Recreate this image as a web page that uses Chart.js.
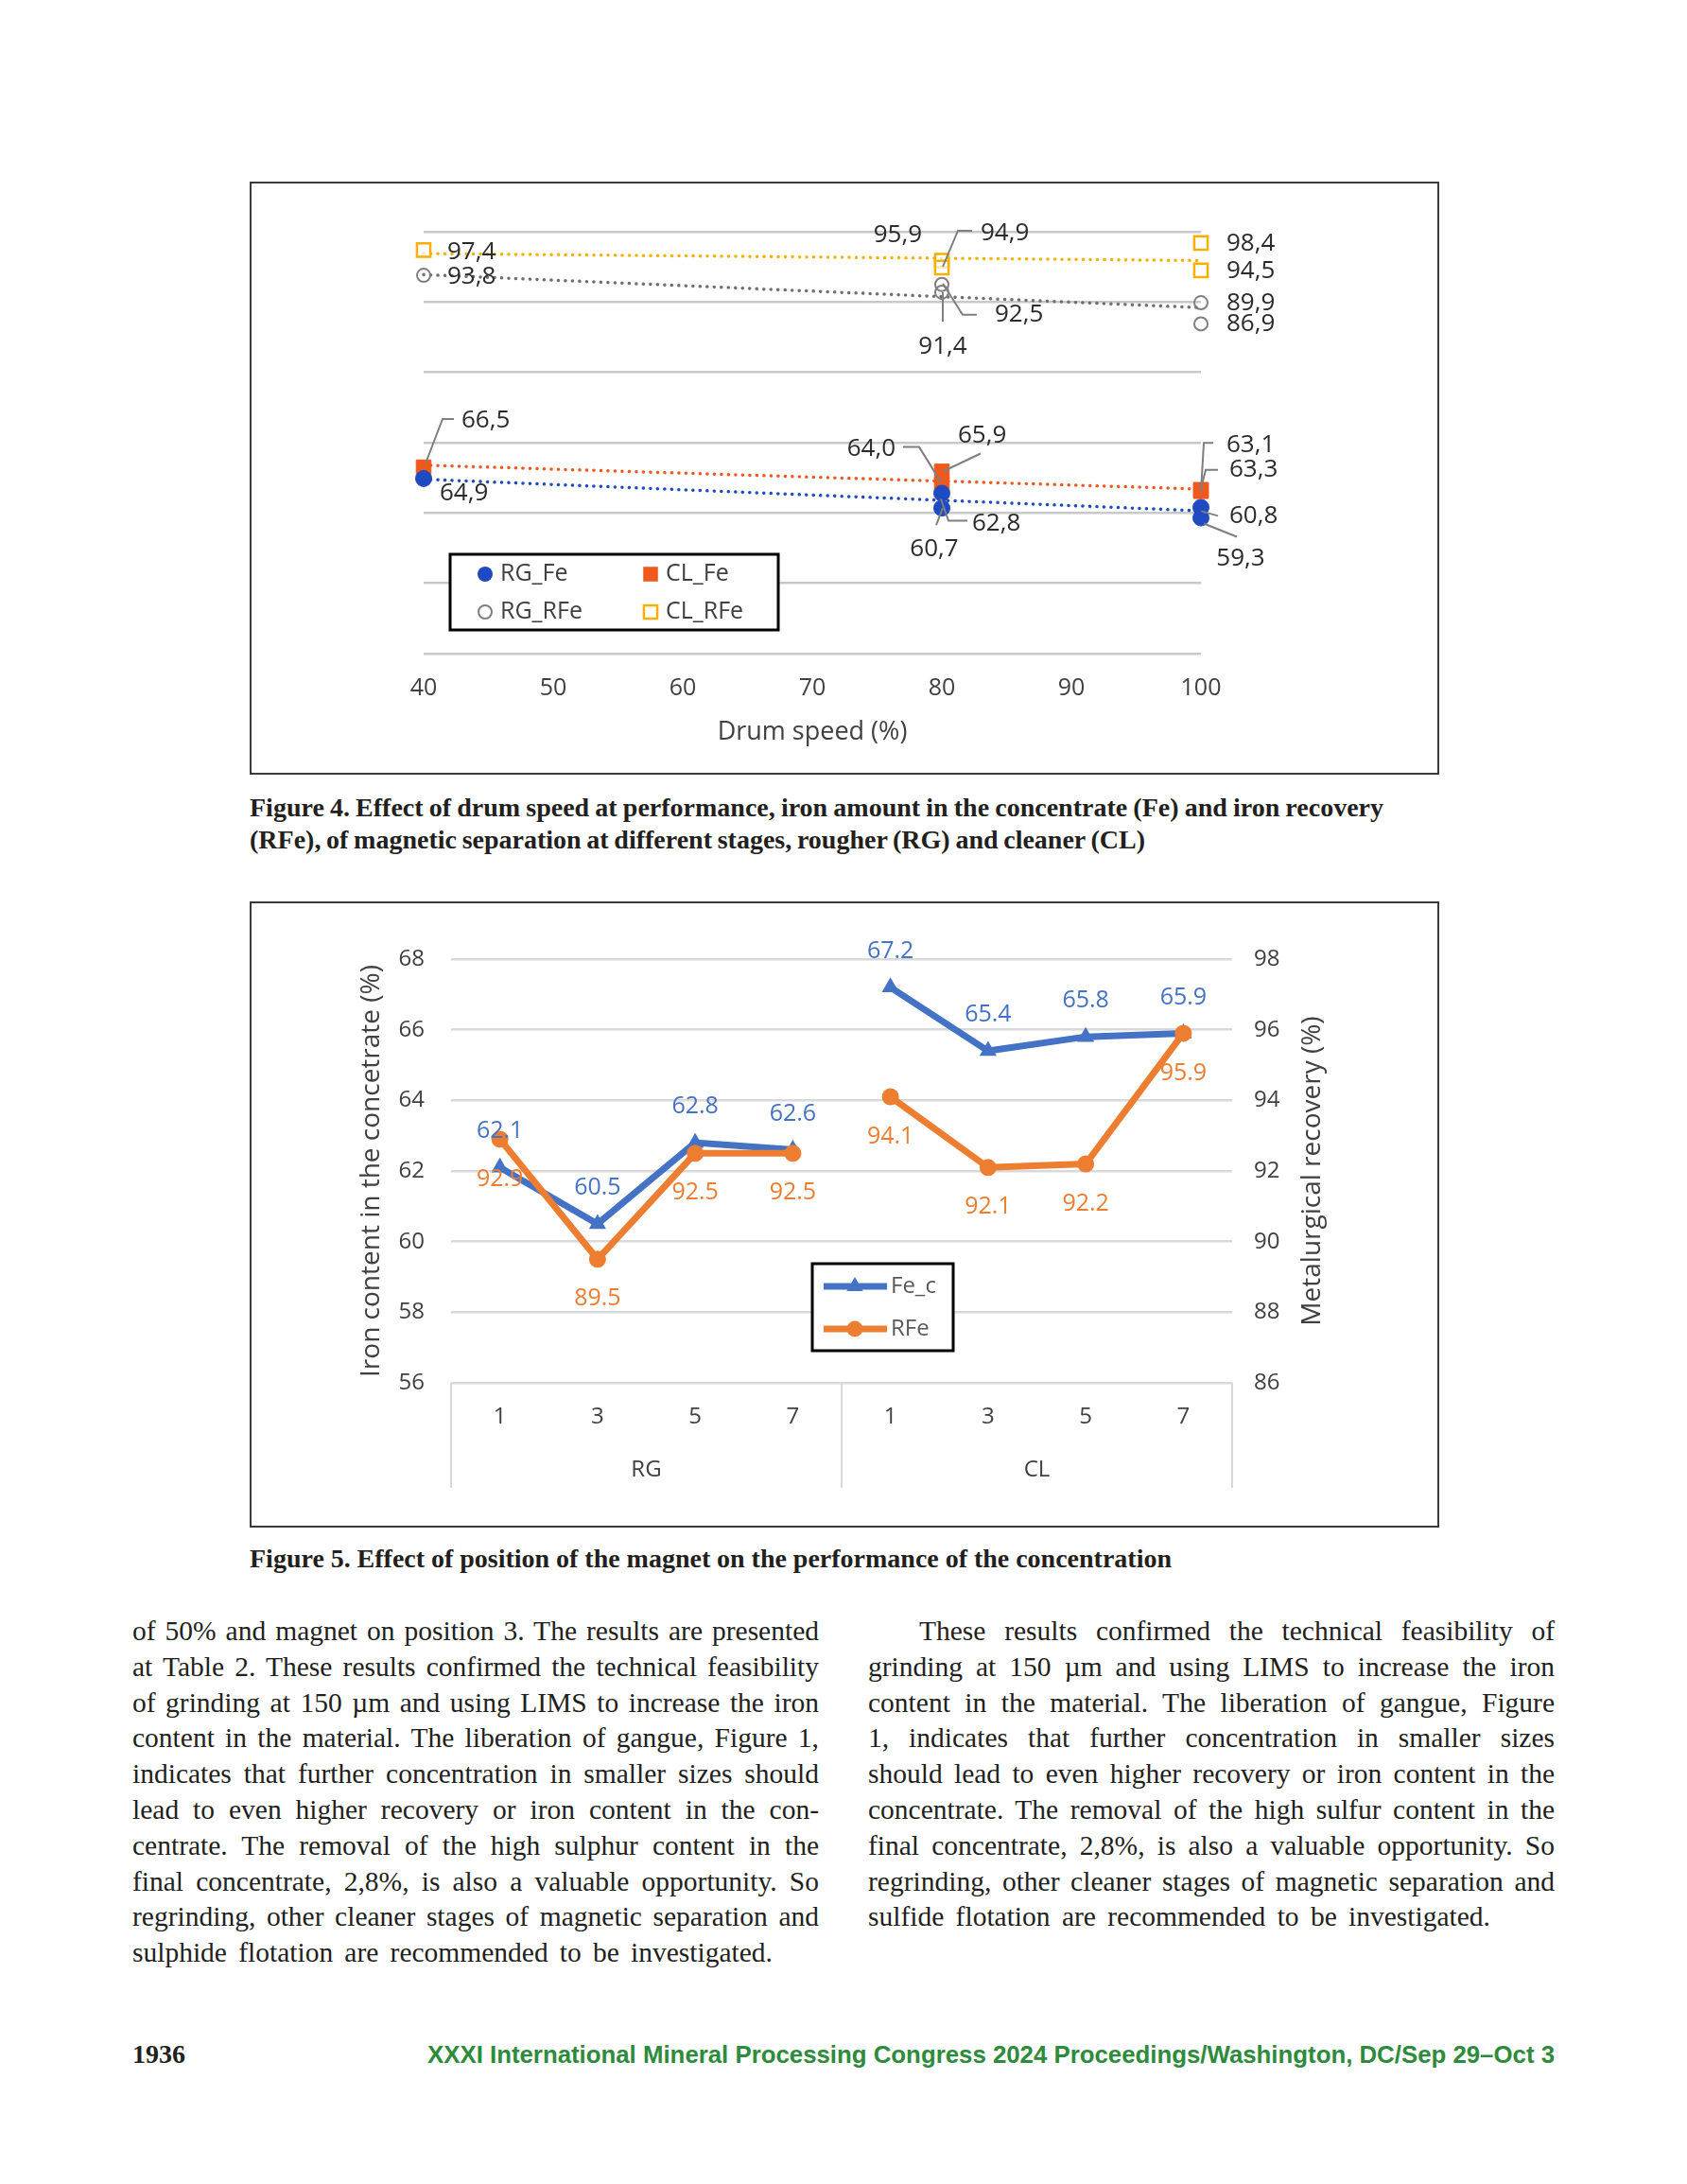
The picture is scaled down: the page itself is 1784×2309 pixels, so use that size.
<!DOCTYPE html>
<html>
<head>
<meta charset="utf-8">
<script src="https://cdn.jsdelivr.net/npm/chart.js@4.4.1/dist/chart.umd.min.js"></script>
<style>
  html, body { margin: 0; padding: 0; background: #fff; }
  body { width: 1784px; height: 2309px; position: relative; overflow: hidden; }
  .fig { position: absolute; left: 264px; width: 1254px; border: 2px solid #3a3a3a; background: #fff; }
  #fig4 { top: 192px; height: 623px; }
  #fig5 { top: 953px; height: 658px; }
  .fig canvas { display: block; }
  .ln { position: absolute; white-space: nowrap; }
  .cap { font-family: "Liberation Serif", serif; font-weight: bold; font-size: 28px; line-height: 34px; color: #231f20; }
  .txt { font-family: "Liberation Serif", serif; font-size: 29.5px; line-height: 38px; color: #231f20; }
  .pg { font-family: "Liberation Serif", serif; font-weight: bold; font-size: 28px; line-height: 34px; color: #231f20; }
  .conf { font-family: "Liberation Sans", sans-serif; font-weight: bold; font-size: 25px; line-height: 34px; color: #2e8b3c; transform-origin: left center; }
</style>
</head>
<body>

<div class="fig" id="fig4"><canvas id="chart4" width="1254" height="623"></canvas></div>
<div class="ln cap" style="left:264px; top:837px" data-w="1199">Figure 4. Effect of drum speed at performance, iron amount in the concentrate (Fe) and iron recovery</div>
<div class="ln cap" style="left:264px; top:871px" data-w="947">(RFe), of magnetic separation at different stages, rougher (RG) and cleaner (CL)</div>

<div class="fig" id="fig5"><canvas id="chart5" width="1254" height="658"></canvas></div>
<div class="ln cap" style="left:264px; top:1631px" data-w="975">Figure 5. Effect of position of the magnet on the performance of the concentration</div>

<div class="ln txt" style="left:140px; top:1705px" data-w="726">of 50% and magnet on position 3. The results are presented</div>
<div class="ln txt" style="left:140px; top:1743px" data-w="726">at Table 2. These results confirmed the technical feasibility</div>
<div class="ln txt" style="left:140px; top:1781px" data-w="726">of grinding at 150 µm and using LIMS to increase the iron</div>
<div class="ln txt" style="left:140px; top:1818px" data-w="726">content in the material. The liberation of gangue, Figure 1,</div>
<div class="ln txt" style="left:140px; top:1856px" data-w="726">indicates that further concentration in smaller sizes should</div>
<div class="ln txt" style="left:140px; top:1894px" data-w="726">lead to even higher recovery or iron content in the con-</div>
<div class="ln txt" style="left:140px; top:1932px" data-w="726">centrate. The removal of the high sulphur content in the</div>
<div class="ln txt" style="left:140px; top:1970px" data-w="726">final concentrate, 2,8%, is also a valuable opportunity. So</div>
<div class="ln txt" style="left:140px; top:2007px" data-w="726">regrinding, other cleaner stages of magnetic separation and</div>
<div class="ln txt" style="left:140px; top:2045px" data-w="677">sulphide flotation are recommended to be investigated.</div>

<div class="ln txt" style="left:972px; top:1705px" data-w="672">These results confirmed the technical feasibility of</div>
<div class="ln txt" style="left:918px; top:1743px" data-w="726">grinding at 150 µm and using LIMS to increase the iron</div>
<div class="ln txt" style="left:918px; top:1781px" data-w="726">content in the material. The liberation of gangue, Figure</div>
<div class="ln txt" style="left:918px; top:1818px" data-w="726">1, indicates that further concentration in smaller sizes</div>
<div class="ln txt" style="left:918px; top:1856px" data-w="726">should lead to even higher recovery or iron content in the</div>
<div class="ln txt" style="left:918px; top:1894px" data-w="726">concentrate. The removal of the high sulfur content in the</div>
<div class="ln txt" style="left:918px; top:1932px" data-w="726">final concentrate, 2,8%, is also a valuable opportunity. So</div>
<div class="ln txt" style="left:918px; top:1970px" data-w="726">regrinding, other cleaner stages of magnetic separation and</div>
<div class="ln txt" style="left:918px; top:2007px" data-w="658">sulfide flotation are recommended to be investigated.</div>

<div class="ln pg" style="left:140px; top:2155px">1936</div>
<div class="ln conf" style="left:452px; top:2155px" data-w="1192" data-fit="scale">XXXI International Mineral Processing Congress 2024 Proceedings/Washington, DC/Sep 29–Oct 3</div>

<script>
// ---------- Figure 4 data (drum speed tests) ----------
const DRUM_SPEED = [40, 80, 80, 100, 100];
const RG_FE  = [64.9, 62.8, 60.7, 60.8, 59.3];
const CL_FE  = [66.5, 64.0, 65.9, 63.1, 63.3];
const RG_RFE = [93.8, 91.4, 92.5, 89.9, 86.9];
const CL_RFE = [97.4, 95.9, 94.9, 98.4, 94.5];

// dotted linear trendlines, values read at 40 and 100
const TREND_X = [40, 100];
const RG_FE_TREND  = [64.8, 60.3];
const CL_FE_TREND  = [66.8, 63.4];
const RG_RFE_TREND = [93.9, 89.2];
const CL_RFE_TREND = [96.9, 95.9];

const SPEED_TICKS = [40, 50, 60, 70, 80, 90, 100];

// ---------- Figure 5 data (magnet position) ----------
const MAGNET_POSITION = ['1', '3', '5', '7', '1', '3', '5', '7'];
const STAGES = ['RG', 'CL'];
const FE_C = [62.1, 60.5, 62.8, 62.6, 67.2, 65.4, 65.8, 65.9];
const RFE  = [92.9, 89.5, 92.5, 92.5, 94.1, 92.1, 92.2, 95.9];

// Colors
const COLOR_RG_FE = "#1f4bc2";
const COLOR_CL_FE = "#f0581c";
const COLOR_RG_RFE = "#7f7f7f";
const COLOR_CL_RFE = "#f5b000";
const COLOR_FE_C = "#4472c4";
const COLOR_RFE = "#ed7d31";

Chart.defaults.font.family = '"Open Sans", "DejaVu Sans", sans-serif';
Chart.defaults.animation = false;
Chart.defaults.events = [];
Chart.defaults.plugins.legend.display = false;
Chart.defaults.plugins.tooltip.enabled = false;

// label placement for figure 4 (pixel offsets from the point, excel style leader lines)
const RG_FE_LABELS = [
    { dx: 17, dy: 16, align: 'left' },
    { dx: 32, dy: 32, align: 'left', leader: [[-1, 6], [7, 29], [27, 29]] },
    { dx: -8, dy: 43, align: 'center', leader: [[1, 0], [-6, 18]] },
    { dx: 30, dy: 9, align: 'left', leader: [[0, 4], [18, 9]] },
    { dx: 42, dy: 43, align: 'center', leader: [[3, 6], [38, 20]] }
];
const CL_FE_LABELS = [
    { dx: 40, dy: -49, align: 'left', leader: [[2, -4], [20, -51], [32, -51]] },
    { dx: -49, dy: -38, align: 'right', leader: [[-41, -40], [-24, -40], [-1, -3]] },
    { dx: 17, dy: -38, align: 'left', leader: [[1, 0], [41, -19]] },
    { dx: 27, dy: -49, align: 'left', leader: [[0, 1], [3, -51], [13, -51]] },
    { dx: 30, dy: -21, align: 'left', leader: [[0, -1], [5, -21], [18, -21]] }
];
const RG_RFE_LABELS = [
    { dx: 25, dy: 2, align: 'left' },
    { dx: 1, dy: 58, align: 'center', leader: [[1, 0], [1, 31]] },
    { dx: 56, dy: 32, align: 'left', leader: [[1, -1], [22, 32], [37, 32]] },
    { dx: 27, dy: 1, align: 'left' },
    { dx: 27, dy: 0, align: 'left' }
];
const CL_RFE_LABELS = [
    { dx: 25, dy: 2, align: 'left' },
    { dx: -21, dy: -27, align: 'right' },
    { dx: 41, dy: -36, align: 'left', leader: [[1, -1], [17, -39], [32, -39]] },
    { dx: 27, dy: 1, align: 'left' },
    { dx: 27, dy: 1, align: 'left' }
];

const pts = (xs, ys) => xs.map((x, i) => ({ x: x, y: ys[i] }));

function trend(ys, color) {
    return {
        data: pts(TREND_X, ys),
        showLine: true,
        pointRadius: 0,
        borderColor: color,
        borderWidth: 3.5,
        borderDash: [0.1, 7.4],
        borderCapStyle: 'round',
        fill: false,
        clip: false
    };
}

function drawMarker(ctx, style, x, y, r, fill, stroke, lw) {
    ctx.beginPath();
    if (style === 'rect') {
        const s = Math.SQRT1_2 * r;
        ctx.rect(x - s, y - s, 2 * s, 2 * s);
    } else if (style === 'triangle') {
        ctx.moveTo(x, y - r);
        ctx.lineTo(x + r * 0.866, y + r / 2);
        ctx.lineTo(x - r * 0.866, y + r / 2);
        ctx.closePath();
    } else {
        ctx.arc(x, y, r, 0, Math.PI * 2);
    }
    if (fill) { ctx.fillStyle = fill; ctx.fill(); }
    if (stroke) { ctx.strokeStyle = stroke; ctx.lineWidth = lw; ctx.stroke(); }
}

// Data labels + legend for figure 4
const fig4Extras = {
    id: 'fig4Extras',
    afterDatasetsDraw(chart) {
        const ctx = chart.ctx;
        const series = [RG_FE, CL_FE, RG_RFE, CL_RFE];
        const layouts = [RG_FE_LABELS, CL_FE_LABELS, RG_RFE_LABELS, CL_RFE_LABELS];
        ctx.save();
        ctx.font = '26px "Open Sans"';
        ctx.textBaseline = 'middle';
        layouts.forEach((layout, di) => {
            const meta = chart.getDatasetMeta(di);
            layout.forEach((l, i) => {
                const p = meta.data[i];
                if (l.leader) {
                    ctx.strokeStyle = '#7f7f7f';
                    ctx.lineWidth = 2;
                    ctx.beginPath();
                    l.leader.forEach(([lx, ly], k) => {
                        if (k === 0) ctx.moveTo(p.x + lx, p.y + ly);
                        else ctx.lineTo(p.x + lx, p.y + ly);
                    });
                    ctx.stroke();
                }
                ctx.fillStyle = '#2b2b2b';
                ctx.textAlign = l.align;
                ctx.fillText(series[di][i].toFixed(1).replace('.', ','), p.x + l.dx, p.y + l.dy);
            });
        });
        ctx.restore();
    },
    afterDraw(chart) {
        const ctx = chart.ctx;
        ctx.save();
        ctx.fillStyle = '#fff';
        ctx.fillRect(210, 392, 347, 80);
        ctx.strokeStyle = '#000';
        ctx.lineWidth = 3;
        ctx.strokeRect(210, 392, 347, 80);
        drawMarker(ctx, 'circle', 247, 413, 8, COLOR_RG_FE, null, 0);
        drawMarker(ctx, 'rect', 422, 413, 11, COLOR_CL_FE, null, 0);
        drawMarker(ctx, 'circle', 247, 453, 7, null, COLOR_RG_RFE, 2);
        drawMarker(ctx, 'rect', 422, 453, 10, null, COLOR_CL_RFE, 2.5);
        ctx.font = '25px "Open Sans"';
        ctx.fillStyle = '#404040';
        ctx.textBaseline = 'middle';
        ctx.textAlign = 'left';
        ctx.fillText('RG_Fe', 263, 413);
        ctx.fillText('CL_Fe', 438, 413);
        ctx.fillText('RG_RFe', 263, 453);
        ctx.fillText('CL_RFe', 438, 453);
        ctx.restore();
    }
};

new Chart(document.getElementById('chart4'), {
    type: 'scatter',
    data: {
        datasets: [
            { label: 'RG_Fe', data: pts(DRUM_SPEED, RG_FE), pointStyle: 'circle', pointRadius: 8.5, backgroundColor: COLOR_RG_FE, borderColor: COLOR_RG_FE, borderWidth: 1, clip: false },
            { label: 'CL_Fe', data: pts(DRUM_SPEED, CL_FE), pointStyle: 'rect', pointRadius: 11, backgroundColor: COLOR_CL_FE, borderColor: COLOR_CL_FE, borderWidth: 1, clip: false },
            { label: 'RG_RFe', data: pts(DRUM_SPEED, RG_RFE), pointStyle: 'circle', pointRadius: 7, backgroundColor: 'rgba(255,255,255,0)', borderColor: COLOR_RG_RFE, borderWidth: 2, clip: false },
            { label: 'CL_RFe', data: pts(DRUM_SPEED, CL_RFE), pointStyle: 'rect', pointRadius: 10, backgroundColor: 'rgba(255,255,255,0.7)', borderColor: COLOR_CL_RFE, borderWidth: 2.5, clip: false },
            trend(RG_FE_TREND, COLOR_RG_FE),
            trend(CL_FE_TREND, COLOR_CL_FE),
            trend(RG_RFE_TREND, '#6f6f6f'),
            trend(CL_RFE_TREND, COLOR_CL_RFE)
        ]
    },
    options: {
        responsive: false,
        devicePixelRatio: 1,
        layout: { padding: { top: 51, right: 250, left: 0, bottom: 0 } },
        scales: {
            x: {
                type: 'linear', min: 40, max: 100,
                afterBuildTicks: (s) => { s.ticks = SPEED_TICKS.map(v => ({ value: v })); },
                ticks: { color: '#404040', font: { size: 25 }, padding: 22 },
                grid: { display: false, drawTicks: false },
                border: { display: false },
                title: { display: true, text: 'Drum speed (%)', color: '#404040', font: { size: 27 }, padding: { top: 0, bottom: 26 } },
                afterFit: (s) => { s.height = 126; }
            },
            y: {
                min: 40, max: 100,
                ticks: { stepSize: 10, display: false },
                grid: { color: '#c9c9c9', lineWidth: 2.5, drawTicks: false },
                border: { display: false },
                afterFit: (s) => { s.width = 182; }
            }
        }
    },
    plugins: [fig4Extras]
});

// Labels, grouped category axis, right title and legend for figure 5
const fig5Extras = {
    id: 'fig5Extras',
    afterDatasetsDraw(chart) {
        const ctx = chart.ctx;
        ctx.save();
        ctx.font = '25px "Open Sans"';
        ctx.textAlign = 'center';
        ctx.textBaseline = 'middle';
        chart.getDatasetMeta(1).data.forEach((p, i) => {
            ctx.fillStyle = COLOR_FE_C;
            ctx.fillText(FE_C[i].toFixed(1), p.x, p.y - 38);
        });
        chart.getDatasetMeta(0).data.forEach((p, i) => {
            ctx.fillStyle = COLOR_RFE;
            ctx.fillText(RFE[i].toFixed(1), p.x, p.y + 42);
        });
        ctx.restore();
    },
    afterDraw(chart) {
        const ctx = chart.ctx;
        const area = chart.chartArea;
        ctx.save();
        // group separators + group names
        ctx.strokeStyle = '#d9d9d9';
        ctx.lineWidth = 2;
        const bounds = [];
        for (let g = 0; g <= STAGES.length; g++) {
            const xx = area.left + (area.right - area.left) * g / STAGES.length;
            bounds.push(xx);
            ctx.beginPath();
            ctx.moveTo(xx, area.bottom);
            ctx.lineTo(xx, area.bottom + 111);
            ctx.stroke();
        }
        ctx.font = '24px "Open Sans"';
        ctx.fillStyle = '#404040';
        ctx.textAlign = 'center';
        ctx.textBaseline = 'middle';
        STAGES.forEach((s, g) => {
            ctx.fillText(s, (bounds[g] + bounds[g + 1]) / 2, area.bottom + 92);
        });
        // right axis title, reading bottom to top
        ctx.save();
        ctx.translate(1122, (area.top + area.bottom) / 2);
        ctx.rotate(-Math.PI / 2);
        ctx.font = '28px "Open Sans"';
        ctx.fillStyle = '#404040';
        ctx.fillText('Metalurgical recovery (%)', 0, 0);
        ctx.restore();
        // legend
        ctx.fillStyle = '#fff';
        ctx.fillRect(593, 381, 149, 92);
        ctx.strokeStyle = '#000';
        ctx.lineWidth = 3;
        ctx.strokeRect(593, 381, 149, 92);
        const items = [
            { text: 'Fe_c', color: COLOR_FE_C, style: 'triangle', r: 10, y: 405 },
            { text: 'RFe', color: COLOR_RFE, style: 'circle', r: 8.5, y: 450 }
        ];
        ctx.font = '24px "Open Sans"';
        items.forEach(it => {
            ctx.strokeStyle = it.color;
            ctx.lineWidth = 7;
            ctx.beginPath();
            ctx.moveTo(605, it.y);
            ctx.lineTo(672, it.y);
            ctx.stroke();
            drawMarker(ctx, it.style, 638, it.y, it.r, it.color, null, 0);
            ctx.fillStyle = '#595959';
            ctx.textAlign = 'left';
            ctx.fillText(it.text, 676, it.y);
        });
        ctx.restore();
    }
};

// no line between last RG position and first CL position
const gapAfter = MAGNET_POSITION.length / STAGES.length - 1;
const segGap = { borderColor: (c) => c.p0DataIndex === gapAfter ? 'rgba(0,0,0,0)' : undefined };

new Chart(document.getElementById('chart5'), {
    type: 'line',
    data: {
        labels: MAGNET_POSITION,
        datasets: [
            {
                label: 'RFe', data: RFE, yAxisID: 'y1',
                borderColor: COLOR_RFE, backgroundColor: COLOR_RFE, borderWidth: 7,
                pointStyle: 'circle', pointRadius: 9, pointBorderWidth: 0,
                segment: segGap
            },
            {
                label: 'Fe_c', data: FE_C, yAxisID: 'y',
                borderColor: COLOR_FE_C, backgroundColor: COLOR_FE_C, borderWidth: 7,
                pointStyle: 'triangle', pointRadius: 10.5, pointBorderWidth: 0,
                segment: segGap
            }
        ]
    },
    options: {
        responsive: false,
        devicePixelRatio: 1,
        layout: { padding: { top: 59, right: 0, left: 0, bottom: 0 } },
        scales: {
            x: {
                offset: true,
                ticks: { color: '#404040', font: { size: 24 }, padding: 22, maxRotation: 0, autoSkip: false },
                grid: { display: false, drawTicks: false },
                border: { display: false },
                afterFit: (s) => { s.height = 151; }
            },
            y: {
                position: 'left', min: 56, max: 68,
                ticks: { stepSize: 2, color: '#404040', font: { size: 24 }, padding: 28 },
                grid: { color: '#d9d9d9', lineWidth: 2.5, drawTicks: false },
                border: { display: false },
                title: { display: true, text: 'Iron content in the concetrate (%)', color: '#404040', font: { size: 28 }, padding: { top: 110, bottom: 0 } },
                afterFit: (s) => { s.width = 211; }
            },
            y1: {
                position: 'right', min: 86, max: 98,
                ticks: { stepSize: 2, color: '#404040', font: { size: 24 }, padding: 23 },
                grid: { drawOnChartArea: false, drawTicks: false },
                border: { display: false },
                afterFit: (s) => { s.width = 217; }
            }
        }
    },
    plugins: [fig5Extras]
});

// stretch each text line to its measured width in the page
document.querySelectorAll('[data-w]').forEach(el => {
    const target = +el.dataset.w;
    const w0 = el.getBoundingClientRect().width;
    if (el.dataset.fit === 'scale') {
        el.style.transform = 'scaleX(' + (target / w0) + ')';
        return;
    }
    const spaces = (el.textContent.match(/ /g) || []).length;
    if (spaces) el.style.wordSpacing = ((target - w0) / spaces) + 'px';
});
</script>
</body>
</html>
